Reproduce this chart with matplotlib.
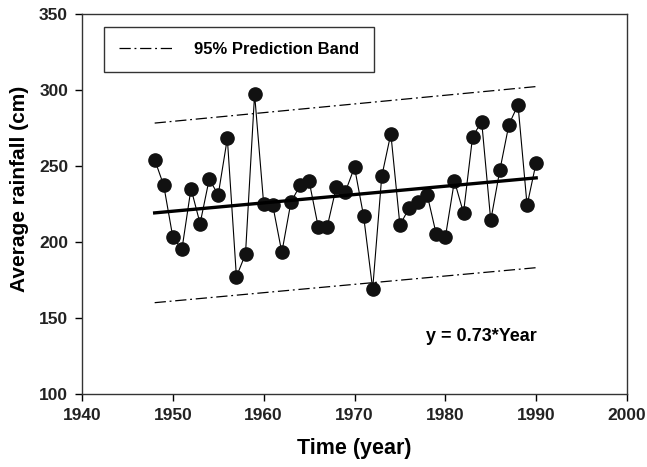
import matplotlib
matplotlib.use("Agg")
import matplotlib.pyplot as plt

years = list(range(1948, 1991))
rainfall = [254, 237, 203, 195, 235, 212, 241, 231, 268, 177, 192, 297,
            225, 224, 193, 226, 237, 240, 210, 210, 236, 233, 249, 217,
            169, 243, 271, 211, 222, 226, 231, 205, 203, 240, 219, 269,
            279, 214, 247, 277, 290, 224, 252]

fit_years = [1948, 1990]
fit_vals = [219, 242]
band_upper = [278, 302]
band_lower = [160, 183]

legend_label = "95% Prediction Band"
equation = "y = 0.73*Year"
xticks = [1940, 1950, 1960, 1970, 1980, 1990, 2000]
yticks = [100, 150, 200, 250, 300, 350]

plt.rcParams['font.family'] = ['Liberation Sans', 'DejaVu Sans']

fig = plt.figure(figsize=(6.47, 4.67), dpi=100)
ax = fig.add_axes([82/647, 1-394/467, (627-82)/647, (394-13.5)/467])

dashdot = (0, (9, 3, 1.5, 3))
band_line, = ax.plot(fit_years, band_upper, color='black', lw=0.9, linestyle=dashdot)
ax.plot(fit_years, band_lower, color='black', lw=0.9, linestyle=dashdot)
ax.plot(years, rainfall, color='black', lw=0.8, marker='o', markersize=9.5,
        markerfacecolor='#111111', markeredgecolor='#111111', zorder=3)
ax.plot(fit_years, fit_vals, color='black', lw=2.4, zorder=4)

ax.set_xlim(1940, 2000)
ax.set_ylim(100, 350)
ax.set_xticks(xticks)
ax.set_yticks(yticks)
ax.tick_params(direction='out', length=5, width=1, labelsize=12.5, pad=5)
for lab in ax.get_xticklabels() + ax.get_yticklabels():
    lab.set_fontweight('bold')
    lab.set_color('#222222')
for s in ax.spines.values():
    s.set_linewidth(1.0)
    s.set_color('#333333')

ax.set_xlabel("Time (year)", fontsize=15.5, fontweight='bold', labelpad=11)
ax.set_ylabel("Average rainfall (cm)", fontsize=15, fontweight='bold')
ax.yaxis.set_label_coords(-0.098, 0.54)

leg = ax.legend([band_line], [legend_label], loc='upper left',
                bbox_to_anchor=((104-82)/545, 1-(27-13.5)/380.5),
                borderaxespad=0, fancybox=False, edgecolor='#333333',
                framealpha=1, handlelength=3.3, handletextpad=1.2,
                borderpad=0.9, prop={'size': 12, 'weight': 'bold'})
leg.get_frame().set_linewidth(1.0)

ax.text(1984, 138, equation, fontsize=13, fontweight='bold', ha='center', va='center')

fig.savefig("out.png", dpi=100)
